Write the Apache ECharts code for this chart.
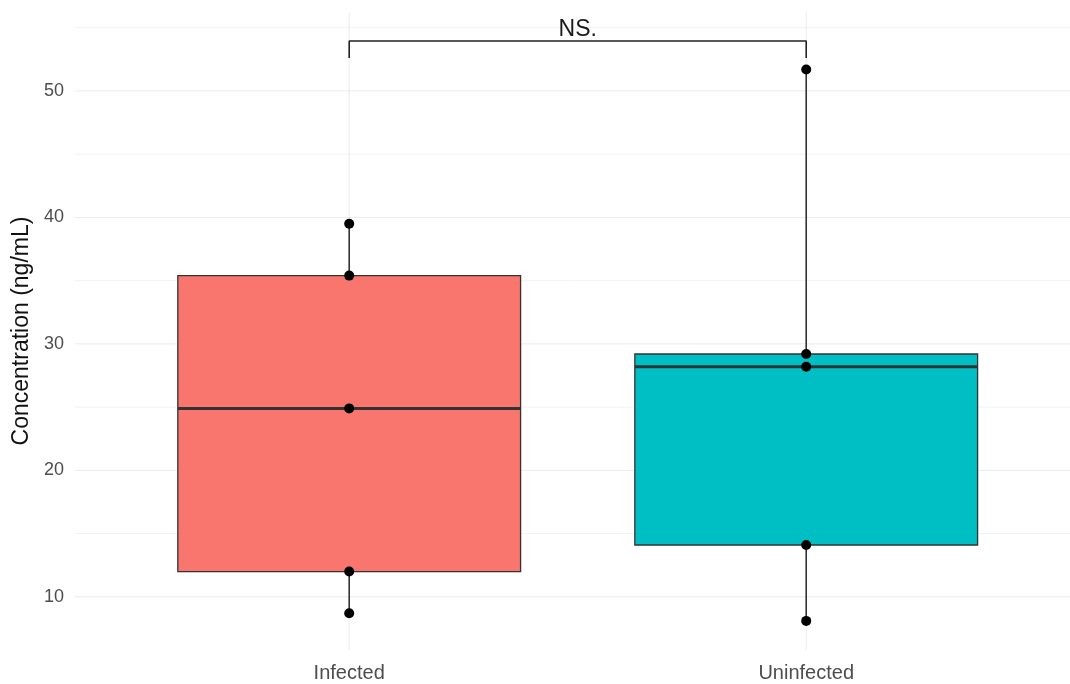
<!DOCTYPE html>
<html>
<head>
<meta charset="utf-8">
<title>Concentration by infection status</title>
<script src="https://cdn.jsdelivr.net/npm/echarts@6/dist/echarts.min.js"></script>
<style>
  html, body { margin: 0; padding: 0; background: #ffffff; }
  #chart { width: 1070px; height: 684px; }
</style>
</head>
<body>
<div id="chart"></div>
<script>
// Groups and their individual measurements (ng/mL)
const categories = ['Infected', 'Uninfected'];
const infectedValues = [8.7, 12.0, 24.9, 35.4, 39.5];
const uninfectedValues = [8.1, 14.1, 28.2, 29.2, 51.7];
const groupValues = [infectedValues, uninfectedValues];
const groupColors = ['#F8766D', '#00BFC4'];

// Axis ticks
const yMajorTicks = [10, 20, 30, 40, 50];
const yMinorTicks = [15, 25, 35, 45, 55];

// Significance bracket between the two groups
const signifLabel = 'NS.';
const bracketTop = 53.95;
const bracketTip = 52.6;

// Type-7 quantile (as in R's default)
function quantile(sorted, p) {
  const h = (sorted.length - 1) * p;
  const lo = Math.floor(h);
  const hi = Math.ceil(h);
  return sorted[lo] + (h - lo) * (sorted[hi] - sorted[lo]);
}

const boxStats = groupValues.map(function (vals, i) {
  const s = vals.slice().sort(function (a, b) { return a - b; });
  const q1 = quantile(s, 0.25);
  const med = quantile(s, 0.5);
  const q3 = quantile(s, 0.75);
  const iqr = q3 - q1;
  const inRange = s.filter(function (v) { return v >= q1 - 1.5 * iqr && v <= q3 + 1.5 * iqr; });
  return [i + 1, inRange[0], q1, med, q3, inRange[inRange.length - 1]];
});

const pointData = [];
groupValues.forEach(function (vals, i) {
  vals.forEach(function (v) { pointData.push([i + 1, v]); });
});

// Panel grid lines: [orientation, value, isMajor]
const gridLines = []
  .concat(yMinorTicks.map(function (v) { return [0, v, 0]; }))
  .concat(yMajorTicks.map(function (v) { return [0, v, 1]; }))
  .concat(categories.map(function (c, i) { return [1, i + 1, 1]; }));

const chart = echarts.init(document.getElementById('chart'), null, { renderer: 'canvas' });

const option = {
  backgroundColor: '#ffffff',
  animation: false,
  textStyle: { fontFamily: '"Liberation Sans", Arial, sans-serif' },
  grid: { left: 75, top: 12, right: 0, height: 638, containLabel: false },
  xAxis: {
    type: 'value',
    min: 0.4,
    max: 2.5772,
    axisLine: { show: false },
    axisTick: { show: false },
    splitLine: { show: false },
    axisLabel: {
      customValues: categories.map(function (c, i) { return i + 1; }),
      formatter: function (v) { return categories[Math.round(v) - 1] || ''; },
      color: '#4d4d4d',
      fontSize: 20,
      margin: 13
    }
  },
  yAxis: {
    type: 'value',
    min: 5.8,
    max: 56.24,
    axisLine: { show: false },
    axisTick: { show: false },
    splitLine: { show: false },
    axisLabel: {
      customValues: yMajorTicks,
      color: '#4d4d4d',
      fontSize: 18,
      margin: 11
    },
    name: 'Concentration (ng/mL)',
    nameLocation: 'middle',
    nameGap: 42,
    nameTextStyle: { color: '#111111', fontSize: 23 }
  },
  series: [
    {
      // panel grid lines
      type: 'custom',
      z: 0,
      silent: true,
      data: gridLines,
      renderItem: function (params, api) {
        const cs = params.coordSys;
        const horizontal = api.value(0) === 0;
        const v = api.value(1);
        const color = api.value(2) === 1 ? '#ebebeb' : '#f2f2f2';
        let shape;
        if (horizontal) {
          const y = api.coord([0.4, v])[1];
          shape = { x1: cs.x, y1: y, x2: cs.x + cs.width, y2: y };
        } else {
          const x = api.coord([v, 10])[0];
          shape = { x1: x, y1: cs.y, x2: x, y2: cs.y + cs.height };
        }
        return { type: 'line', shape: shape, style: { stroke: color, lineWidth: 1 } };
      }
    },
    {
      type: 'custom',
      z: 2,
      data: boxStats,
      renderItem: function (params, api) {
        const x = api.value(0);
        const lo = api.value(1), q1 = api.value(2), med = api.value(3), q3 = api.value(4), hi = api.value(5);
        const idx = params.dataIndex;
        const halfW = 0.375;
        const pTL = api.coord([x - halfW, q3]);
        const pBR = api.coord([x + halfW, q1]);
        const pMedL = api.coord([x - halfW, med]);
        const pMedR = api.coord([x + halfW, med]);
        const pHi = api.coord([x, hi]);
        const pQ3 = api.coord([x, q3]);
        const pQ1 = api.coord([x, q1]);
        const pLo = api.coord([x, lo]);
        const stroke = '#333333';
        return {
          type: 'group',
          children: [
            { type: 'line', shape: { x1: pHi[0], y1: pHi[1], x2: pQ3[0], y2: pQ3[1] }, style: { stroke: stroke, lineWidth: 1.6 } },
            { type: 'line', shape: { x1: pQ1[0], y1: pQ1[1], x2: pLo[0], y2: pLo[1] }, style: { stroke: stroke, lineWidth: 1.6 } },
            { type: 'rect', shape: { x: pTL[0], y: pTL[1], width: pBR[0] - pTL[0], height: pBR[1] - pTL[1] },
              style: { fill: groupColors[idx], stroke: stroke, lineWidth: 1.3 } },
            { type: 'line', shape: { x1: pMedL[0], y1: pMedL[1], x2: pMedR[0], y2: pMedR[1] }, style: { stroke: stroke, lineWidth: 3 } }
          ]
        };
      }
    },
    {
      type: 'scatter',
      z: 3,
      data: pointData,
      symbol: 'circle',
      symbolSize: 10,
      itemStyle: { color: '#000000', opacity: 1 }
    },
    {
      // significance bracket
      type: 'line',
      z: 4,
      data: [[1, bracketTip], [1, bracketTop], [2, bracketTop], [2, bracketTip]],
      symbol: 'none',
      lineStyle: { color: '#222222', width: 1.6, opacity: 1 }
    },
    {
      type: 'scatter',
      z: 5,
      data: [[1.5, bracketTop]],
      symbolSize: 0,
      silent: true,
      itemStyle: { opacity: 1 },
      label: {
        show: true,
        position: 'top',
        distance: 0,
        formatter: signifLabel,
        color: '#1a1a1a',
        fontSize: 23
      }
    }
  ]
};

chart.setOption(option);
</script>
</body>
</html>
